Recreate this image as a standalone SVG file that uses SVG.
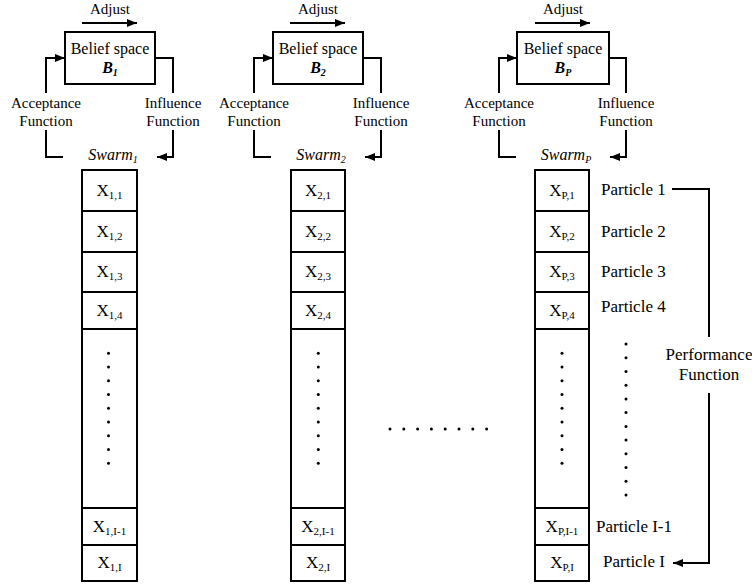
<svg xmlns="http://www.w3.org/2000/svg" width="752" height="584" viewBox="0 0 752 584" font-family="'Liberation Serif', 'DejaVu Serif', serif">
<defs>
<marker id="ah" viewBox="0 0 10 8" refX="10" refY="4" markerWidth="10" markerHeight="8" orient="auto" markerUnits="userSpaceOnUse"><path d="M0,0 L10,4 L0,8 z" fill="#000"/></marker>
<g id="dots9">
<circle cx="0" cy="353.3" r="1.5"/><circle cx="0" cy="367" r="1.5"/><circle cx="0" cy="380.8" r="1.5"/><circle cx="0" cy="394.5" r="1.5"/><circle cx="0" cy="408.3" r="1.5"/><circle cx="0" cy="422" r="1.5"/><circle cx="0" cy="435.8" r="1.5"/><circle cx="0" cy="449.5" r="1.5"/><circle cx="0" cy="463.3" r="1.5"/>
</g>
</defs>
<style>
text{font-family:'Liberation Serif','DejaVu Serif',serif;fill:#000}
.t15{font-size:15px}
.t16{font-size:16px}
.t17{font-size:17px}
.lbl{font-size:17px;text-anchor:middle}
.box{fill:#fff;stroke:#000;stroke-width:2}
.ln{fill:none;stroke:#000;stroke-width:2}
.mid{text-anchor:middle}
.sub{font-size:10px}
.xs{font-size:11px}
.bi{font-weight:bold;font-style:italic}
.it{font-style:italic}
circle{fill:#000}
</style>
<rect width="752" height="584" fill="#fff"/>

<!-- Column 1 -->
<g id="col1">
<g id="belief1">
<rect class="box" x="65" y="32" width="90" height="52"/>
<text class="t16 mid" x="110" y="54">Belief space</text>
<text class="t16 mid bi" x="110" y="73">B<tspan class="sub" dy="3">1</tspan></text>
</g>
<g id="labels1">
<text class="t15 mid" x="110" y="14">Adjust</text>
<text class="t15 mid" x="46" y="108">Acceptance</text>
<text class="t15 mid" x="46" y="126">Function</text>
<text class="t15 mid" x="173" y="108">Influence</text>
<text class="t15 mid" x="173" y="126">Function</text>
<text class="t16 mid it" x="113" y="160">Swarm<tspan class="sub" dy="3">1</tspan></text>
</g>
<g id="swarm1">
<rect class="box" x="82" y="170" width="55" height="411"/>
<path class="ln" d="M82,211H137M82,252H137M82,292H137M82,329H137M82,508H137M82,545H137"/>
<text class="lbl" x="109.5" y="196">X<tspan class="xs" dy="3">1,1</tspan></text>
<text class="lbl" x="109.5" y="237">X<tspan class="xs" dy="3">1,2</tspan></text>
<text class="lbl" x="109.5" y="277">X<tspan class="xs" dy="3">1,3</tspan></text>
<text class="lbl" x="109.5" y="316">X<tspan class="xs" dy="3">1,4</tspan></text>
<text class="lbl" x="109.5" y="532">X<tspan class="xs" dy="3">1,I-1</tspan></text>
<text class="lbl" x="109.5" y="568">X<tspan class="xs" dy="3">1,I</tspan></text>
<use href="#dots9" x="108.5"/>
</g>
</g>

<!-- Column 2 -->
<g id="col2">
<g id="belief2">
<rect class="box" x="273" y="32" width="90" height="52"/>
<text class="t16 mid" x="318" y="54">Belief space</text>
<text class="t16 mid bi" x="318" y="73">B<tspan class="sub" dy="3">2</tspan></text>
</g>
<g id="labels2">
<text class="t15 mid" x="318" y="14">Adjust</text>
<text class="t15 mid" x="254" y="108">Acceptance</text>
<text class="t15 mid" x="254" y="126">Function</text>
<text class="t15 mid" x="381" y="108">Influence</text>
<text class="t15 mid" x="381" y="126">Function</text>
<text class="t16 mid it" x="321" y="160">Swarm<tspan class="sub" dy="3">2</tspan></text>
</g>
<g id="swarm2">
<rect class="box" x="291" y="170" width="54" height="411"/>
<path class="ln" d="M291,211H345M291,252H345M291,292H345M291,329H345M291,508H345M291,545H345"/>
<text class="lbl" x="318" y="196">X<tspan class="xs" dy="3">2,1</tspan></text>
<text class="lbl" x="318" y="237">X<tspan class="xs" dy="3">2,2</tspan></text>
<text class="lbl" x="318" y="277">X<tspan class="xs" dy="3">2,3</tspan></text>
<text class="lbl" x="318" y="316">X<tspan class="xs" dy="3">2,4</tspan></text>
<text class="lbl" x="318" y="532">X<tspan class="xs" dy="3">2,I-1</tspan></text>
<text class="lbl" x="318" y="568">X<tspan class="xs" dy="3">2,I</tspan></text>
<use href="#dots9" x="318.3"/>
</g>
</g>

<!-- Column P -->
<g id="colP">
<g id="beliefP">
<rect class="box" x="517" y="32" width="92" height="52"/>
<text class="t16 mid" x="563" y="54">Belief space</text>
<text class="t16 mid bi" x="563" y="73">B<tspan class="sub" dy="3">P</tspan></text>
</g>
<g id="labelsP">
<text class="t15 mid" x="563" y="14">Adjust</text>
<text class="t15 mid" x="499" y="108">Acceptance</text>
<text class="t15 mid" x="499" y="126">Function</text>
<text class="t15 mid" x="626" y="108">Influence</text>
<text class="t15 mid" x="626" y="126">Function</text>
<text class="t16 mid it" x="566" y="160">Swarm<tspan class="sub" dy="3">P</tspan></text>
</g>
<g id="swarmP">
<rect class="box" x="535" y="170" width="54" height="411"/>
<path class="ln" d="M535,211H589M535,252H589M535,292H589M535,329H589M535,508H589M535,545H589"/>
<text class="lbl" x="562" y="196">X<tspan class="xs" dy="3">P,1</tspan></text>
<text class="lbl" x="562" y="237">X<tspan class="xs" dy="3">P,2</tspan></text>
<text class="lbl" x="562" y="277">X<tspan class="xs" dy="3">P,3</tspan></text>
<text class="lbl" x="562" y="316">X<tspan class="xs" dy="3">P,4</tspan></text>
<text class="lbl" x="562" y="532">X<tspan class="xs" dy="3">P,I-1</tspan></text>
<text class="lbl" x="562" y="568">X<tspan class="xs" dy="3">P,I</tspan></text>
<use href="#dots9" x="562"/>
</g>
<g id="particles">
<text class="t17" x="601" y="195">Particle 1</text>
<text class="t17" x="601" y="237">Particle 2</text>
<text class="t17" x="601" y="277">Particle 3</text>
<text class="t17" x="601" y="312">Particle 4</text>
<text class="t17" x="596" y="532">Particle I-1</text>
<text class="t17" x="603" y="567">Particle I</text>
<text class="t17 mid" x="709" y="360">Performance</text>
<text class="t17 mid" x="709" y="380">Function</text>
<circle cx="626" cy="344" r="1.5"/><circle cx="626" cy="357.7" r="1.5"/><circle cx="626" cy="371.5" r="1.5"/><circle cx="626" cy="385.2" r="1.5"/><circle cx="626" cy="398.9" r="1.5"/><circle cx="626" cy="412.6" r="1.5"/><circle cx="626" cy="426.4" r="1.5"/><circle cx="626" cy="440.1" r="1.5"/><circle cx="626" cy="453.8" r="1.5"/><circle cx="626" cy="467.5" r="1.5"/><circle cx="626" cy="481.3" r="1.5"/><circle cx="626" cy="495" r="1.5"/>
</g>
</g>

<g id="between">
<circle cx="390" cy="429" r="1.5"/><circle cx="403.8" cy="429" r="1.5"/><circle cx="417.6" cy="429" r="1.5"/><circle cx="431.4" cy="429" r="1.5"/><circle cx="445.2" cy="429" r="1.5"/><circle cx="459" cy="429" r="1.5"/><circle cx="472.8" cy="429" r="1.5"/><circle cx="486.6" cy="429" r="1.5"/>
</g>

<!-- Connectors -->
<g id="connectors" class="ln">
<path class="ln" d="M82,23H137" marker-end="url(#ah)"/>
<path class="ln" d="M63,157H46V130"/>
<path class="ln" d="M46,93V58H65" marker-end="url(#ah)"/>
<path class="ln" d="M155,58H173V93"/>
<path class="ln" d="M173,130V157H157" marker-end="url(#ah)"/>

<path class="ln" d="M290,23H345" marker-end="url(#ah)"/>
<path class="ln" d="M271,157H254V130"/>
<path class="ln" d="M254,93V58H273" marker-end="url(#ah)"/>
<path class="ln" d="M363,58H381V93"/>
<path class="ln" d="M381,130V157H365" marker-end="url(#ah)"/>

<path class="ln" d="M535,23H590" marker-end="url(#ah)"/>
<path class="ln" d="M516,157H499V130"/>
<path class="ln" d="M499,93V58H517" marker-end="url(#ah)"/>
<path class="ln" d="M609,58H626V93"/>
<path class="ln" d="M626,130V157H610" marker-end="url(#ah)"/>

<path class="ln" d="M672,189H709V337"/>
<path class="ln" d="M709,393V563H673" marker-end="url(#ah)"/>
</g>
</svg>
